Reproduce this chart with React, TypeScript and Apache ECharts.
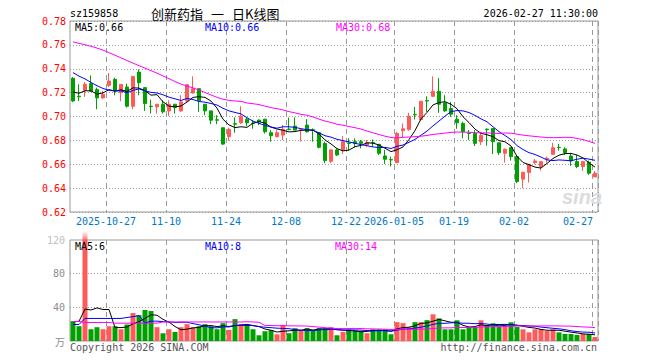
import React, { useEffect, useRef } from "react";
import * as echarts from "echarts";

// ---------- data ----------
const dates = [
  "2025-10-17", "2025-10-20", "2025-10-21", "2025-10-22", "2025-10-23", "2025-10-24",
  "2025-10-27", "2025-10-28", "2025-10-29", "2025-10-30", "2025-10-31",
  "2025-11-03", "2025-11-04", "2025-11-05", "2025-11-06", "2025-11-07",
  "2025-11-10", "2025-11-11", "2025-11-12", "2025-11-13", "2025-11-14",
  "2025-11-17", "2025-11-18", "2025-11-19", "2025-11-20", "2025-11-21",
  "2025-11-24", "2025-11-25", "2025-11-26", "2025-11-27", "2025-11-28",
  "2025-12-01", "2025-12-02", "2025-12-03", "2025-12-04", "2025-12-05",
  "2025-12-08", "2025-12-09", "2025-12-10", "2025-12-11", "2025-12-12",
  "2025-12-15", "2025-12-16", "2025-12-17", "2025-12-18", "2025-12-19",
  "2025-12-22", "2025-12-23", "2025-12-24", "2025-12-25", "2025-12-26",
  "2025-12-29", "2025-12-30", "2025-12-31",
  "2026-01-05", "2026-01-06", "2026-01-07", "2026-01-08", "2026-01-09",
  "2026-01-12", "2026-01-13", "2026-01-14", "2026-01-15", "2026-01-16",
  "2026-01-19", "2026-01-20", "2026-01-21", "2026-01-22", "2026-01-23",
  "2026-01-26", "2026-01-27", "2026-01-28", "2026-01-29", "2026-01-30",
  "2026-02-02", "2026-02-03", "2026-02-04", "2026-02-05", "2026-02-06",
  "2026-02-09", "2026-02-10", "2026-02-11", "2026-02-12", "2026-02-13",
  "2026-02-24", "2026-02-25", "2026-02-26", "2026-02-27",
];

const opens = [
  0.732, 0.717, 0.722, 0.7275, 0.7225, 0.7156, 0.7261, 0.7311, 0.72, 0.7247,
  0.7086, 0.7372, 0.7242, 0.7086, 0.7081, 0.7103, 0.7047, 0.7103, 0.7047, 0.7131,
  0.7197, 0.7233, 0.7103, 0.7047, 0.6972, 0.6906, 0.6831, 0.6939, 0.6947, 0.6978,
  0.6944, 0.697, 0.6978, 0.6864, 0.6831, 0.6844, 0.6894, 0.692, 0.6886, 0.6928,
  0.6889, 0.6864, 0.6775, 0.6625, 0.672, 0.672, 0.6778, 0.6789, 0.6789, 0.6761,
  0.6781, 0.6767, 0.6669, 0.6639, 0.6614, 0.6881, 0.6892, 0.7018, 0.6975, 0.7133,
  0.7169, 0.7211, 0.7114, 0.7067, 0.6978, 0.6942, 0.6861, 0.6858, 0.6789, 0.6894,
  0.69, 0.678, 0.6692, 0.6739, 0.6664, 0.6475, 0.6531, 0.6614, 0.6581, 0.6642,
  0.6683, 0.6742, 0.6728, 0.6669, 0.6622, 0.6581, 0.6617, 0.6494,
];
const closes = [
  0.713, 0.7165, 0.727, 0.7214, 0.7156, 0.7186, 0.7297, 0.7214, 0.7269, 0.7086,
  0.7336, 0.7283, 0.7108, 0.7083, 0.7103, 0.7039, 0.7103, 0.7075, 0.7122, 0.7267,
  0.7233, 0.7131, 0.7047, 0.6969, 0.6969, 0.6769, 0.6892, 0.6936, 0.7003, 0.6947,
  0.6942, 0.6956, 0.6872, 0.6839, 0.6864, 0.6892, 0.689, 0.6886, 0.6889, 0.6872,
  0.6886, 0.6742, 0.6631, 0.672, 0.6678, 0.6789, 0.6775, 0.6775, 0.6775, 0.6783,
  0.6778, 0.6692, 0.6642, 0.6636, 0.6858, 0.6897, 0.7003, 0.7014, 0.7128, 0.713,
  0.7211, 0.7103, 0.7047, 0.7019, 0.6947, 0.6872, 0.6858, 0.6775, 0.6842, 0.6889,
  0.6789, 0.6697, 0.6725, 0.6664, 0.6456, 0.6533, 0.66, 0.6628, 0.6622, 0.665,
  0.6739, 0.6739, 0.6697, 0.6628, 0.6581, 0.6622, 0.6525, 0.6525,
];
const lows = [
  0.712, 0.713, 0.7165, 0.7206, 0.7061, 0.7147, 0.7247, 0.7178, 0.7128, 0.7075,
  0.7061, 0.7178, 0.7047, 0.7025, 0.7025, 0.7025, 0.7003, 0.7025, 0.7039, 0.7122,
  0.7192, 0.7039, 0.7011, 0.6936, 0.6936, 0.6761, 0.6797, 0.6864, 0.6936, 0.6919,
  0.6897, 0.6928, 0.6858, 0.6789, 0.6825, 0.6803, 0.6886, 0.6886, 0.6789, 0.6864,
  0.6789, 0.6733, 0.6608, 0.6608, 0.667, 0.6686, 0.6714, 0.6742, 0.6733, 0.6747,
  0.6747, 0.6678, 0.6603, 0.6581, 0.6608, 0.6825, 0.6881, 0.6975, 0.6964, 0.7039,
  0.7164, 0.7031, 0.7039, 0.6997, 0.6897, 0.6817, 0.6803, 0.6753, 0.6761, 0.6756,
  0.6686, 0.6678, 0.6614, 0.6631, 0.6442, 0.64, 0.6447, 0.66, 0.6547, 0.6614,
  0.6683, 0.6714, 0.6678, 0.6586, 0.6567, 0.6544, 0.6511, 0.6494,
];
const highs = [
  0.733, 0.727, 0.729, 0.7344, 0.7242, 0.7214, 0.7364, 0.7325, 0.727, 0.7275,
  0.7336, 0.7394, 0.7242, 0.7142, 0.7103, 0.7136, 0.7136, 0.7103, 0.7178, 0.7267,
  0.7336, 0.7233, 0.7103, 0.7047, 0.7011, 0.6906, 0.6906, 0.6992, 0.7086, 0.6992,
  0.697, 0.6975, 0.6978, 0.6886, 0.6886, 0.6928, 0.6992, 0.6992, 0.6889, 0.6978,
  0.69, 0.6864, 0.6789, 0.6725, 0.6733, 0.6836, 0.6817, 0.6817, 0.6803, 0.6803,
  0.6808, 0.6767, 0.672, 0.6664, 0.6872, 0.6942, 0.7031, 0.708, 0.7128, 0.7169,
  0.7336, 0.7322, 0.7178, 0.7122, 0.7011, 0.6956, 0.6886, 0.6886, 0.6872, 0.69,
  0.69, 0.678, 0.6733, 0.6739, 0.6664, 0.6533, 0.66, 0.6644, 0.6622, 0.6664,
  0.678, 0.677, 0.6742, 0.6692, 0.6678, 0.6628, 0.6631, 0.6544,
];

// volume, 万
const volumes = [
  23.6, 17.6, 125, 14, 16.4, 14, 17.6, 17.6, 14, 19.6,
  33.2, 30.8, 36.8, 35.6, 16.4, 9.2, 14, 10.8, 16.4, 20,
  16.4, 17.6, 20, 17.6, 14, 21.2, 13.2, 26, 20, 18.8,
  14, 6.8, 11.6, 12.8, 8, 18.8, 9.2, 15.2, 12.8, 15.2,
  12.8, 15.2, 15.2, 16.4, 6.8, 10.8, 12.8, 12.8, 11.6, 9.2,
  14, 14, 14, 8, 22.4, 21.2, 16.4, 22.4, 22.4, 24.8,
  31.7, 26.9, 13.9, 13.9, 24.6, 13.9, 16.6, 16.6, 24.6, 19,
  21, 16.6, 17.8, 22.2, 16.6, 13.9, 10.3, 13.9, 13.9, 11.9,
  13.9, 10.3, 8.3, 8.3, 7.1, 8.3, 8.3, 4.8,
];

// moving-average values at the left edge (their windows start before the first day shown)
const ma5Head = [0.7205, 0.7195, 0.7215, 0.7215];
const ma10Head = [0.7368, 0.7338, 0.7315, 0.7285, 0.7258, 0.7235, 0.722, 0.7214, 0.7215];
const ma30Head = [
  0.7625, 0.7613, 0.7601, 0.7588, 0.7573, 0.7556, 0.7535, 0.7513, 0.7491, 0.7469,
  0.7447, 0.7426, 0.7405, 0.7384, 0.7363, 0.734, 0.7317, 0.7293, 0.7271, 0.7255,
  0.724, 0.7222, 0.7201, 0.718, 0.7161, 0.7145, 0.7135, 0.713, 0.7127,
];
const volMa5Head = [22.8, 23.4, 38, 36.8];
const volMa10Head = [19.6, 19.6, 26.8, 26.8, 26.8, 26.8, 26.8, 26.8, 26.8];
const volMa30Head = [
  23.2, 23.2, 22, 22, 22, 22, 22, 21.2, 21.2, 21.2,
  21.2, 21.2, 21.2, 21.2, 21.2, 22.6, 22.6, 22.6, 22.6, 22.6,
  22.6, 22.6, 22.6, 22.6, 22.6, 22.6, 22.6, 22.6, 22.6,
];

const tickDates = [
  "2025-10-27", "2025-11-10", "2025-11-24", "2025-12-08", "2025-12-22",
  "2026-01-05", "2026-01-19", "2026-02-02", "2026-02-27",
];
const tickLabels = ["2025-10-27", "11-10", "11-24", "12-08", "12-22", "2026-01-05", "01-19", "02-02", "02-27"];

const priceTicks = { min: 0.62, max: 0.78, step: 0.02 };
const volTickValues = [0, 40, 80, 120];
const volTickLabels = ["万", "40", "80", "120"];

const headerCode = "sz159858";
const headerName = "创新药指";
const headerDash = "一";
const headerKind = "日K线图";
const headerTime = "2026-02-27 11:30:00";
const priceMaTexts = ["MA5:0.66", "MA10:0.66", "MA30:0.68"];
const volMaTexts = ["MA5:6", "MA10:8", "MA30:14"];
const footerLeft = "Copyright 2026 SINA.COM";
const footerRight = "http://finance.sina.com.cn";

// ---------- helpers ----------
function movingAverage(values: number[], n: number, head: number[]) {
  return values.map((_, i) => {
    if (i < n - 1) return head[i];
    let s = 0;
    for (let k = i - n + 1; k <= i; k++) s += values[k];
    return +(s / n).toFixed(4);
  });
}

const MONO = '"DejaVu Sans Mono", "Liberation Mono", monospace';
const RED = "#ff5a5a";
const GREEN = "#00a000";
const MA_COLORS = ["#000000", "#0000ff", "#ff00ff"];
const LABEL_BLUE = "#0078c8";
const GRID_GREY = "#999999";

export default function App() {
  const ref = useRef<HTMLDivElement>(null);

  useEffect(() => {
    if (!ref.current) return;
    const chart = echarts.init(ref.current, undefined, { renderer: "svg" });

    const volMin = volTickValues[0];
    const volMax = volTickValues[volTickValues.length - 1];
    const volStep = volTickValues[1] - volTickValues[0];

    const candles = dates.map((_, i) => [opens[i], closes[i], lows[i], highs[i]]);
    const volData = volumes.map((v, i) => ({
      value: v,
      itemStyle: { color: closes[i] > opens[i] ? RED : GREEN },
    }));
    const tickIdx = tickDates.map((d) => dates.indexOf(d));
    const isTick = (i: number) => tickIdx.includes(i);

    const ma5 = movingAverage(closes, 5, ma5Head);
    const ma10 = movingAverage(closes, 10, ma10Head);
    const ma30 = movingAverage(closes, 30, ma30Head);
    const vma5 = movingAverage(volumes, 5, volMa5Head);
    const vma10 = movingAverage(volumes, 10, volMa10Head);
    const vma30 = movingAverage(volumes, 30, volMa30Head);

    const vSplit = {
      show: true,
      interval: (i: number) => isTick(i),
      lineStyle: { color: GRID_GREY, type: [5, 4], width: 1 },
    };
    const hSplit = { show: true, lineStyle: { color: GRID_GREY, type: [1, 2], width: 1 } };

    const lineSeries = (data: number[], color: string, xi: number) => ({
      type: "line",
      xAxisIndex: xi,
      yAxisIndex: xi,
      data,
      showSymbol: false,
      symbol: "none",
      silent: true,
      lineStyle: { color, width: 1 },
      z: 5,
    });

    chart.setOption({
      animation: false,
      backgroundColor: "#ffffff",
      textStyle: { fontFamily: MONO },
      grid: [
        { left: 70, top: 21, width: 528, height: 191, show: true, borderColor: GRID_GREY, borderWidth: 1 },
        { left: 70, top: 240, width: 528, height: 101, show: true, borderColor: GRID_GREY, borderWidth: 1 },
      ],
      xAxis: [
        {
          type: "category",
          gridIndex: 0,
          data: dates,
          boundaryGap: true,
          axisLine: { show: false },
          axisTick: { show: false },
          axisLabel: {
            interval: (i: number) => isTick(i),
            margin: 4,
            color: LABEL_BLUE,
            fontSize: 10,
            fontFamily: MONO,
            formatter: (v: string, idx: number) => {
              const k = tickDates.indexOf(v);
              if (k < 0) return "";
              return idx === dates.length - 1 ? `{e|${tickLabels[k]}}` : `{n|${tickLabels[k]}}`;
            },
            rich: {
              n: { color: LABEL_BLUE, fontSize: 10, fontFamily: MONO, padding: [0, 6, 0, 0] },
              e: { color: LABEL_BLUE, fontSize: 10, fontFamily: MONO, padding: [0, 34, 0, 0] },
            },
          },
          splitLine: vSplit,
        },
        {
          type: "category",
          gridIndex: 1,
          data: dates,
          boundaryGap: true,
          axisLine: { show: false },
          axisTick: { show: false },
          axisLabel: { show: false },
          splitLine: vSplit,
        },
      ],
      yAxis: [
        {
          type: "value",
          gridIndex: 0,
          min: priceTicks.min,
          max: priceTicks.max,
          interval: priceTicks.step,
          axisLine: { show: false },
          axisTick: { show: false },
          axisLabel: {
            color: "#ff0000",
            fontSize: 10,
            fontFamily: MONO,
            margin: 4,
            formatter: (v: number) => v.toFixed(2),
          },
          splitLine: hSplit,
        },
        {
          type: "value",
          gridIndex: 1,
          min: volMin,
          max: volMax,
          interval: volStep,
          axisLine: { show: false },
          axisTick: { show: false },
          axisLabel: { show: false },
          splitLine: { show: false },
        },
      ],
      series: [
        {
          type: "candlestick",
          xAxisIndex: 0,
          yAxisIndex: 0,
          data: candles,
          barWidth: 4,
          itemStyle: {
            color: RED,
            color0: GREEN,
            borderColor: RED,
            borderColor0: GREEN,
            borderWidth: 1,
          },
          z: 3,
        },
        lineSeries(ma5, MA_COLORS[0], 0),
        lineSeries(ma10, MA_COLORS[1], 0),
        lineSeries(ma30, MA_COLORS[2], 0),
        {
          type: "bar",
          xAxisIndex: 1,
          yAxisIndex: 1,
          data: volData,
          barWidth: 5,
          clip: true,
          z: 3,
          markLine: {
            silent: true,
            symbol: ["none", "none"],
            label: { show: false },
            lineStyle: { color: GRID_GREY, type: [1, 2], width: 1 },
            z: 1,
            data: volTickValues.slice(1, -1).map((v) => ({ yAxis: v })),
          },
        },
        lineSeries(vma5, MA_COLORS[0], 1),
        lineSeries(vma10, MA_COLORS[1], 1),
        lineSeries(vma30, MA_COLORS[2], 1),
      ],
    });

    const txt = (text: string, x: number, y: number, fill: string, align = "left", font = `10px ${MONO}`) => ({
      type: "text",
      x,
      y,
      silent: true,
      z: 20,
      style: {
        text,
        fill,
        font,
        align,
        textAlign: align,
        verticalAlign: "middle",
        textVerticalAlign: "middle",
      },
    });
    const CJK = '13px "Noto Sans CJK SC", sans-serif';

    const graphics: any[] = [
      txt(headerCode, 70, 13, "#000"),
      txt(headerName, 151, 13, "#000", "left", CJK),
      txt(headerDash, 217.5, 13, "#000", "center", CJK),
      txt(headerKind, 232, 13, "#000", "left", CJK),
      txt(headerTime, 598, 13, "#000", "right"),
      txt(priceMaTexts[0], 75, 27, MA_COLORS[0]),
      txt(priceMaTexts[1], 205, 27, MA_COLORS[1]),
      txt(priceMaTexts[2], 336, 27, MA_COLORS[2]),
      txt(volMaTexts[0], 75, 246, MA_COLORS[0]),
      txt(volMaTexts[1], 205, 246, MA_COLORS[1]),
      txt(volMaTexts[2], 335, 246, MA_COLORS[2]),
      txt(footerLeft, 70, 347, "#555"),
      txt(footerRight, 597, 347, "#555", "right"),
      txt("sina", 582, 197, "#dcdcdc", "center", 'italic bold 20px "Liberation Sans", Arial, sans-serif'),
    ];

    // volume axis labels, placed through the volume axis scale
    volTickValues.forEach((v, k) => {
      const y = chart.convertToPixel({ yAxisIndex: 1 }, v) as number;
      const x = (chart.convertToPixel({ xAxisIndex: 1 }, 0) as number) - 3 - 5;
      const color = v === volMax ? "#c0c0c0" : "#8c8c8c";
      const font = v === volMin ? `10px "Noto Sans CJK SC", sans-serif` : `10px ${MONO}`;
      graphics.push(txt(volTickLabels[k], x, y, color, "right", font));
    });

    // fade above the bar that runs past the top of the volume panel
    volumes.forEach((v, i) => {
      if (v > volMax) {
        const p = chart.convertToPixel({ xAxisIndex: 1, yAxisIndex: 1 }, [i, volMax]) as number[];
        if (p) {
          graphics.push({
            type: "rect",
            silent: true,
            z: 10,
            shape: { x: p[0] - 2.5, y: p[1] - 9, width: 5, height: 9 },
            style: {
              fill: new echarts.graphic.LinearGradient(0, 0, 0, 1, [
                { offset: 0, color: "rgba(255,90,90,0)" },
                { offset: 1, color: "rgba(255,90,90,0.85)" },
              ]),
            },
          });
        }
      }
    });

    chart.setOption({ graphic: graphics });

    return () => chart.dispose();
  }, []);

  return (
    <div
      ref={ref}
      style={{ position: "fixed", left: 0, top: 0, width: 660, height: 360, background: "#fff" }}
    />
  );
}
